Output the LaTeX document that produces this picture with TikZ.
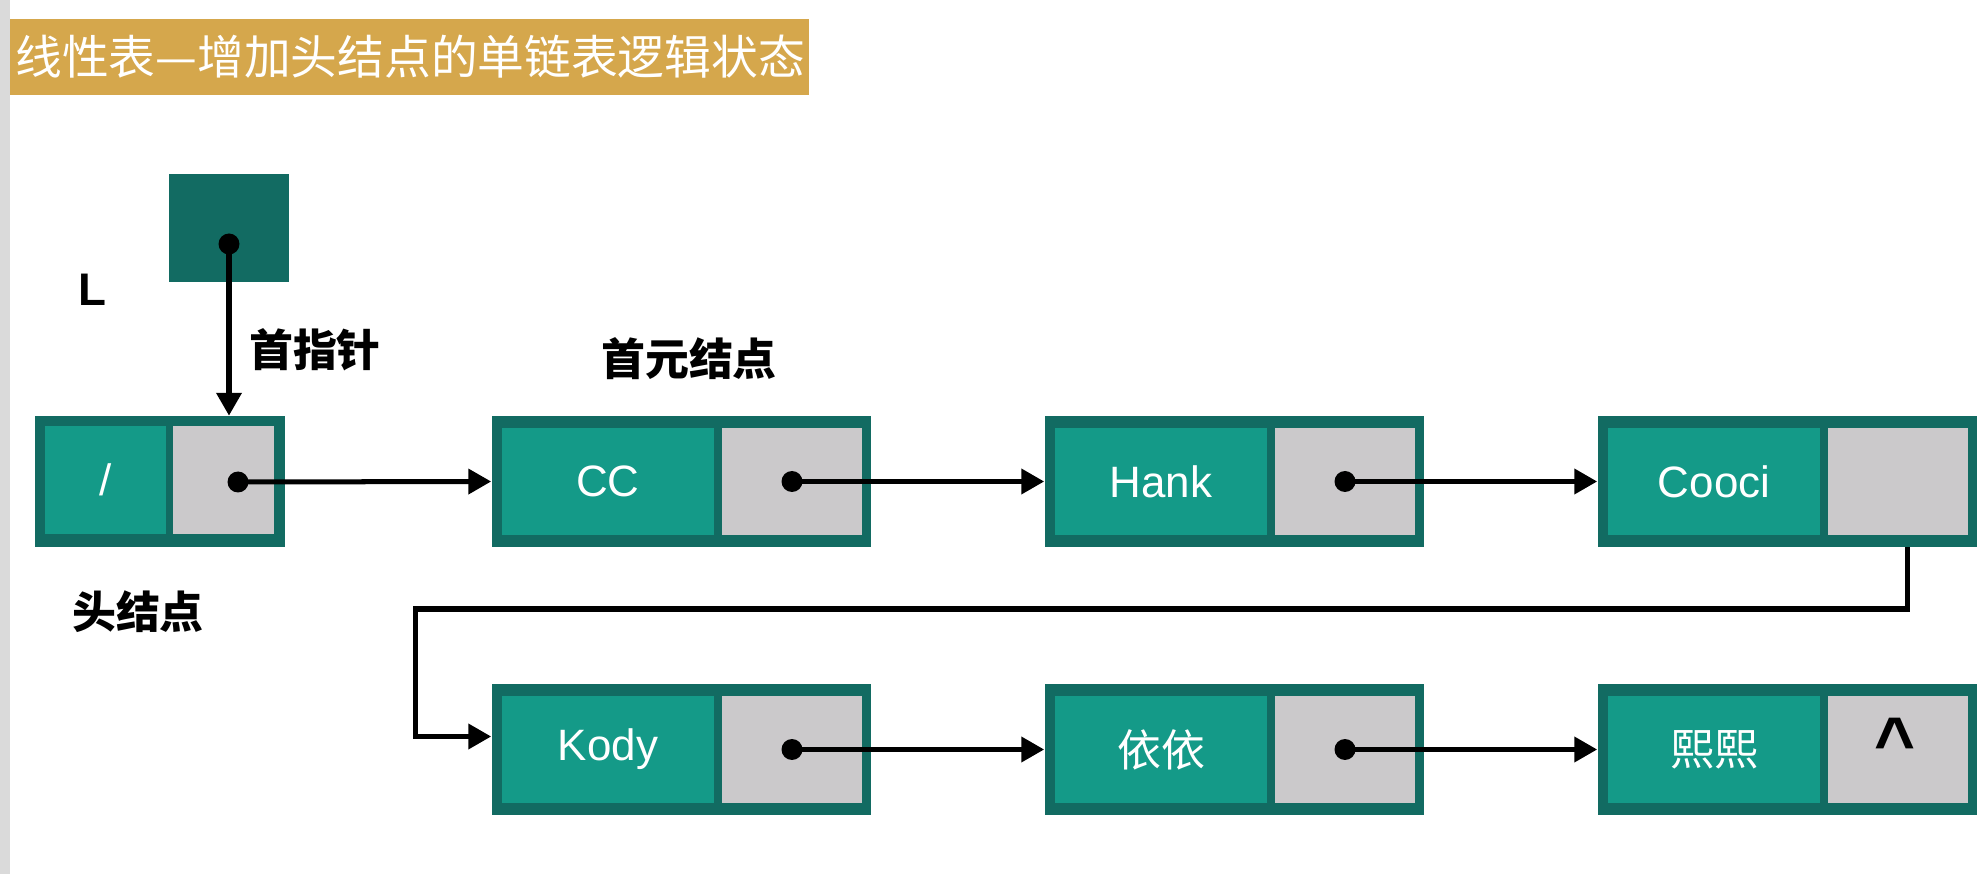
\documentclass[tikz,border=0pt]{standalone}
\usepackage{fontspec}
\setmainfont{Liberation Sans}
\newfontfamily\cjk{Noto Sans CJK SC}
\usetikzlibrary{arrows.meta,calc,positioning}
\definecolor{boxteal}{HTML}{126B62}
\definecolor{cellteal}{HTML}{149A88}
\definecolor{ptrgray}{HTML}{CBC9CB}
\definecolor{banner}{HTML}{D5A74C}
\definecolor{margin}{HTML}{DADADA}

\begin{document}
\begin{tikzpicture}[x=0.02cm,y=-0.02cm,
 nodebox/.style={fill=boxteal,minimum width=7.6cm,minimum height=2.62cm,inner sep=0},
 datacell/.style={fill=cellteal,minimum width=4.24cm,minimum height=2.16cm,inner sep=0,
 text=white,font=\fontsize{25}{30}\selectfont},
 ptrcell/.style={fill=ptrgray,minimum width=2.8cm,minimum height=2.16cm,inner sep=0},
 ptrdot/.style={circle,fill=black,minimum size=0.42cm,inner sep=0},
 arr/.style={-{Triangle[length=13pt,width=14pt]},line width=2.85pt},
 lbl/.style={font=\cjk\bfseries\fontsize{25}{30}\selectfont}]
\useasboundingbox (0,0) rectangle (1982,874);
\fill[margin] (0,0) rectangle (10,874);
\fill[banner] (10,19) rectangle (809,95);
\node[anchor=west,inner sep=0,text=white,font=\cjk\fontsize{26.6}{30}\selectfont]
 (title) at (15,57) {线性表—增加头结点的单链表逻辑状态};

% head pointer L
\node[fill=boxteal,minimum width=2.4cm,minimum height=2.16cm,inner sep=0] (L) at (229,228) {};
\node[ptrdot] (Ldot) at (229,244) {};
\node[font=\bfseries\fontsize{26}{30}\selectfont] (Lname) at (92,290) {L};
\node[lbl] (firstptr) at (315,350) {首指针};

% head node
\node[nodebox,minimum width=5cm] (head) at (160,481.5) {};
\node[datacell,minimum width=2.42cm] (headd) at (105.5,480) {/};
\node[ptrcell,minimum width=2.02cm] (headp) at (223.5,480) {};
\node[ptrdot] (headx) at (238,482) {};
\node[lbl] (headname) at (138,612) {头结点};
\node[lbl] (firstname) at (689,359) {首元结点};

% first row
\node[nodebox] (cc) at (681.5,481.5) {};
\node[datacell] (ccd) at (608,481.5) {CC};
\node[ptrcell] (ccp) at (792,481.5) {};
\node[ptrdot] (ccx) at (ccp) {};
\node[nodebox] (hank) at (1234.5,481.5) {};
\node[datacell] (hankd) at (1161,481.5) {Hank};
\node[ptrcell] (hankp) at (1345,481.5) {};
\node[ptrdot] (hankx) at (hankp) {};
\node[nodebox] (cooci) at (1787.5,481.5) {};
\node[datacell] (coocid) at (1714,481.5) {Cooci};
\node[ptrcell] (coocip) at (1898,481.5) {};

% second row
\node[nodebox] (kody) at (681.5,749.5) {};
\node[datacell] (kodyd) at (608,749.5) {Kody};
\node[ptrcell] (kodyp) at (792,749.5) {};
\node[ptrdot] (kodyx) at (kodyp) {};
\node[nodebox] (yiyi) at (1234.5,749.5) {};
\node[datacell] (yiyid) at (1161,749.5) {\cjk 依依};
\node[ptrcell] (yiyip) at (1345,749.5) {};
\node[ptrdot] (yiyix) at (yiyip) {};
\node[nodebox] (xixi) at (1787.5,749.5) {};
\node[datacell] (xixid) at (1714,749.5) {\cjk 熙熙};
\node[ptrcell] (xixip) at (1898,749.5) {};
\node[font=\bfseries\fontsize{40}{40}\selectfont] (nil) at (1895,742) {\textasciicircum};

\coordinate (wrap) at (415,609);
\draw[arr] (Ldot.center)--(Ldot.center |- head.north);
\draw[arr] (headx.center)--(cc.west);
\draw[arr] (ccx.center)--(hank.west);
\draw[arr] (hankx.center)--(cooci.west);
\draw[arr] ($(cooci.south east)+(-70,0)$) |- (wrap) |- ($(kody.west)+(0,-13)$);
\draw[arr] (kodyx.center)--(yiyi.west);
\draw[arr] (yiyix.center)--(xixi.west);
\end{tikzpicture}
\end{document}
